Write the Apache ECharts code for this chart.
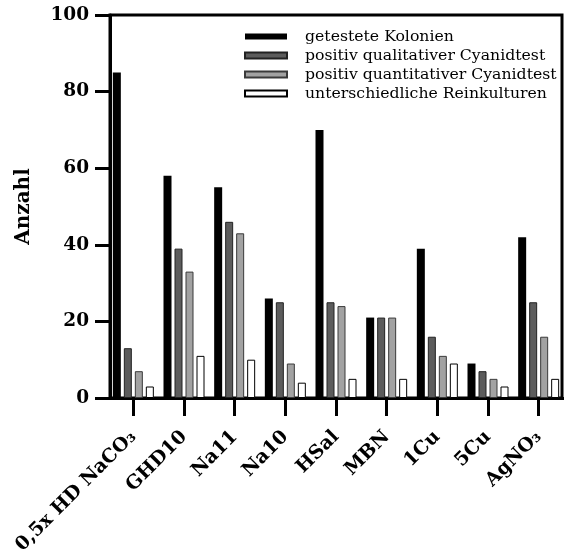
<!DOCTYPE html>
<html><head><meta charset="utf-8">
<script src="https://cdn.jsdelivr.net/npm/echarts@6/dist/echarts.min.js"></script>
<style>html,body{margin:0;padding:0;background:#fff}#c{width:564px;height:558px}</style>
</head><body><div id="c"></div>
<script>
const categories = ['0,5x HD NaCO₃', 'GHD10', 'Na11', 'Na10', 'HSal', 'MBN', '1Cu', '5Cu', 'AgNO₃'];
const seriesNames = ['getestete Kolonien', 'positiv qualitativer Cyanidtest', 'positiv quantitativer Cyanidtest', 'unterschiedliche Reinkulturen'];
const getesteteKolonien = [85, 58, 55, 26, 70, 21, 39, 9, 42];
const positivQualitativ = [13, 39, 46, 25, 25, 21, 16, 7, 25];
const positivQuantitativ = [7, 33, 43, 9, 24, 21, 11, 5, 16];
const reinkulturen = [3, 11, 10, 4, 5, 5, 9, 3, 5];
const yMin = 0, yMax = 100, yStep = 20;

const seriesValues = [getesteteKolonien, positivQualitativ, positivQuantitativ, reinkulturen];
const fills = ['#000000', '#5c5c5c', '#a2a2a2', '#ffffff'];
const borders = ['#000000', '#222222', '#3a3a3a', '#000000'];
const serif = 'DejaVu Serif';

const chart = echarts.init(document.getElementById('c'), null, {renderer: 'canvas'});
chart.setOption({
  animation: false,
  backgroundColor: '#fff',
  grid: [
    {left: 110, right: 2, top: 15, bottom: 160, show: true, borderColor: '#000', borderWidth: 3, backgroundColor: 'transparent'},
    {left: 108, width: 457, top: 15, bottom: 160}
  ],
  legend: {
    orient: 'vertical', left: 239, top: 23.5, itemWidth: 42, itemHeight: 6, itemGap: 3,
    selectedMode: false, icon: 'rect',
    textStyle: {fontFamily: serif, fontSize: 15.7, lineHeight: 15.5, color: '#000', padding: [0, 0, 0, 13]},
    data: seriesNames
  },
  xAxis: [
    {gridIndex: 0, type: 'category', data: categories, show: false},
    {gridIndex: 1, type: 'category', data: categories,
      axisLine: {show: true, lineStyle: {color: '#000', width: 3}},
      axisTick: {show: true, alignWithLabel: true, length: 18, lineStyle: {color: '#000', width: 3}},
      axisLabel: {rotate: 45, interval: 0, margin: 36, color: '#000', fontFamily: serif, fontWeight: 'bold', fontSize: 19},
      splitLine: {show: false}}
  ],
  yAxis: [
    {gridIndex: 0, type: 'value', min: yMin, max: yMax, interval: yStep,
      name: 'Anzahl', nameLocation: 'middle', nameGap: 76, nameRotate: 90,
      nameTextStyle: {fontFamily: serif, fontWeight: 'bold', fontSize: 20, color: '#000'},
      axisLine: {show: true, lineStyle: {color: '#000', width: 3}},
      axisTick: {show: true, inside: false, length: 15, lineStyle: {color: '#000', width: 3}},
      axisLabel: {margin: 21, color: '#000', fontFamily: serif, fontWeight: 'bold', fontSize: 18.5},
      splitLine: {show: false}},
    {gridIndex: 1, type: 'value', min: yMin, max: yMax, show: false, splitLine: {show: false}}
  ],
  series: seriesNames.map((name, i) => ({
    name: name, type: 'bar', xAxisIndex: 1, yAxisIndex: 1,
    data: seriesValues[i], barWidth: 8, barGap: '37.5%',
    itemStyle: {color: fills[i], borderColor: borders[i], borderWidth: i === 0 ? 0 : 1}
  }))
});
</script></body></html>
